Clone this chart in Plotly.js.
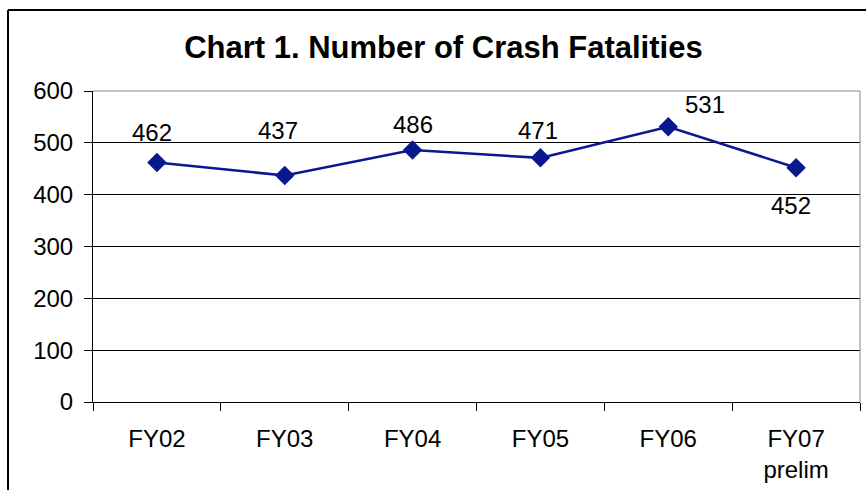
<!DOCTYPE html>
<html>
<head>
<meta charset="utf-8">
<script src="https://cdn.plot.ly/plotly-3.0.1.min.js"></script>
<style>
html,body{margin:0;padding:0;background:#fff;}
#chart{width:866px;height:490px;}
</style>
</head>
<body>
<div id="chart"></div>
<script>
var categories = ["FY02", "FY03", "FY04", "FY05", "FY06", "FY07"];
var tickLabels = ["FY02", "FY03", "FY04", "FY05", "FY06", "FY07<br>prelim"];
var fatalities = [462, 437, 486, 471, 531, 452];

// label placement offsets in pixels (style, not data)
var labelDX = [-5, -7, 0, -2, 37, -5];
var labelDY = [30, 45, 26, 27, 22, -38];

var navy = "#0a1890";
var font = "Liberation Sans, Arial, sans-serif";

var trace = {
  x: categories,
  y: fatalities,
  type: "scatter",
  mode: "lines+markers",
  line: {color: navy, width: 2.5},
  marker: {symbol: "diamond", size: 15, color: navy},
  cliponaxis: false,
  hoverinfo: "x+y"
};

var annotations = categories.map(function (c, i) {
  return {
    x: c, y: fatalities[i], xref: "x", yref: "y",
    text: String(fatalities[i]),
    showarrow: false,
    xanchor: "center", yanchor: "middle",
    xshift: labelDX[i], yshift: labelDY[i],
    font: {family: font, size: 24, color: "#000"}
  };
});

var layout = {
  width: 866,
  height: 490,
  margin: {l: 93, r: 6, t: 91, b: 88},
  paper_bgcolor: "#fff",
  plot_bgcolor: "#fff",
  showlegend: false,
  font: {family: font, color: "#000"},
  title: {
    text: "<b>Chart 1. Number of Crash Fatalities</b>",
    font: {family: font, size: 31, color: "#000"},
    xref: "container", x: 0.512, xanchor: "center",
    yref: "container", y: 0.904, yanchor: "middle"
  },
  xaxis: {
    type: "category",
    range: [-0.5, 5.5],
    tickmode: "array",
    tickvals: categories,
    ticktext: tickLabels,
    tickson: "boundaries",
    ticks: "outside",
    ticklen: 8,
    tickcolor: "#000",
    tickwidth: 1,
    showline: true,
    linecolor: "#000",
    linewidth: 1,
    showgrid: false,
    zeroline: false,
    ticklabelstandoff: 15,
    tickfont: {family: font, size: 24, color: "#000"}
  },
  yaxis: {
    range: [0, 600],
    dtick: 100,
    ticks: "outside",
    ticklen: 8,
    tickcolor: "#000",
    tickwidth: 1,
    showline: true,
    linecolor: "#000",
    linewidth: 1,
    showgrid: true,
    gridcolor: "#000",
    gridwidth: 1,
    zeroline: false,
    ticklabelstandoff: 6,
    tickfont: {family: font, size: 24, color: "#000"}
  },
  annotations: annotations,
  shapes: [
    {type: "line", xref: "paper", yref: "paper", x0: 0, x1: 1, y0: 1, y1: 1, line: {color: "#888", width: 1}, layer: "above"},
    {type: "line", xref: "paper", yref: "paper", x0: 1, x1: 1, y0: 0, y1: 1, line: {color: "#888", width: 1}, layer: "above"},
    {type: "line", xref: "paper", yref: "paper", x0: -0.1108, x1: -0.1108, y0: -0.3, y1: 1.2605, line: {color: "#000", width: 2}},
    {type: "line", xref: "paper", yref: "paper", x0: -0.1108, x1: 1.01, y0: 1.2605, y1: 1.2605, line: {color: "#000", width: 2}}
  ]
};

Plotly.newPlot("chart", [trace], layout, {displayModeBar: false, staticPlot: true});
</script>
</body>
</html>
